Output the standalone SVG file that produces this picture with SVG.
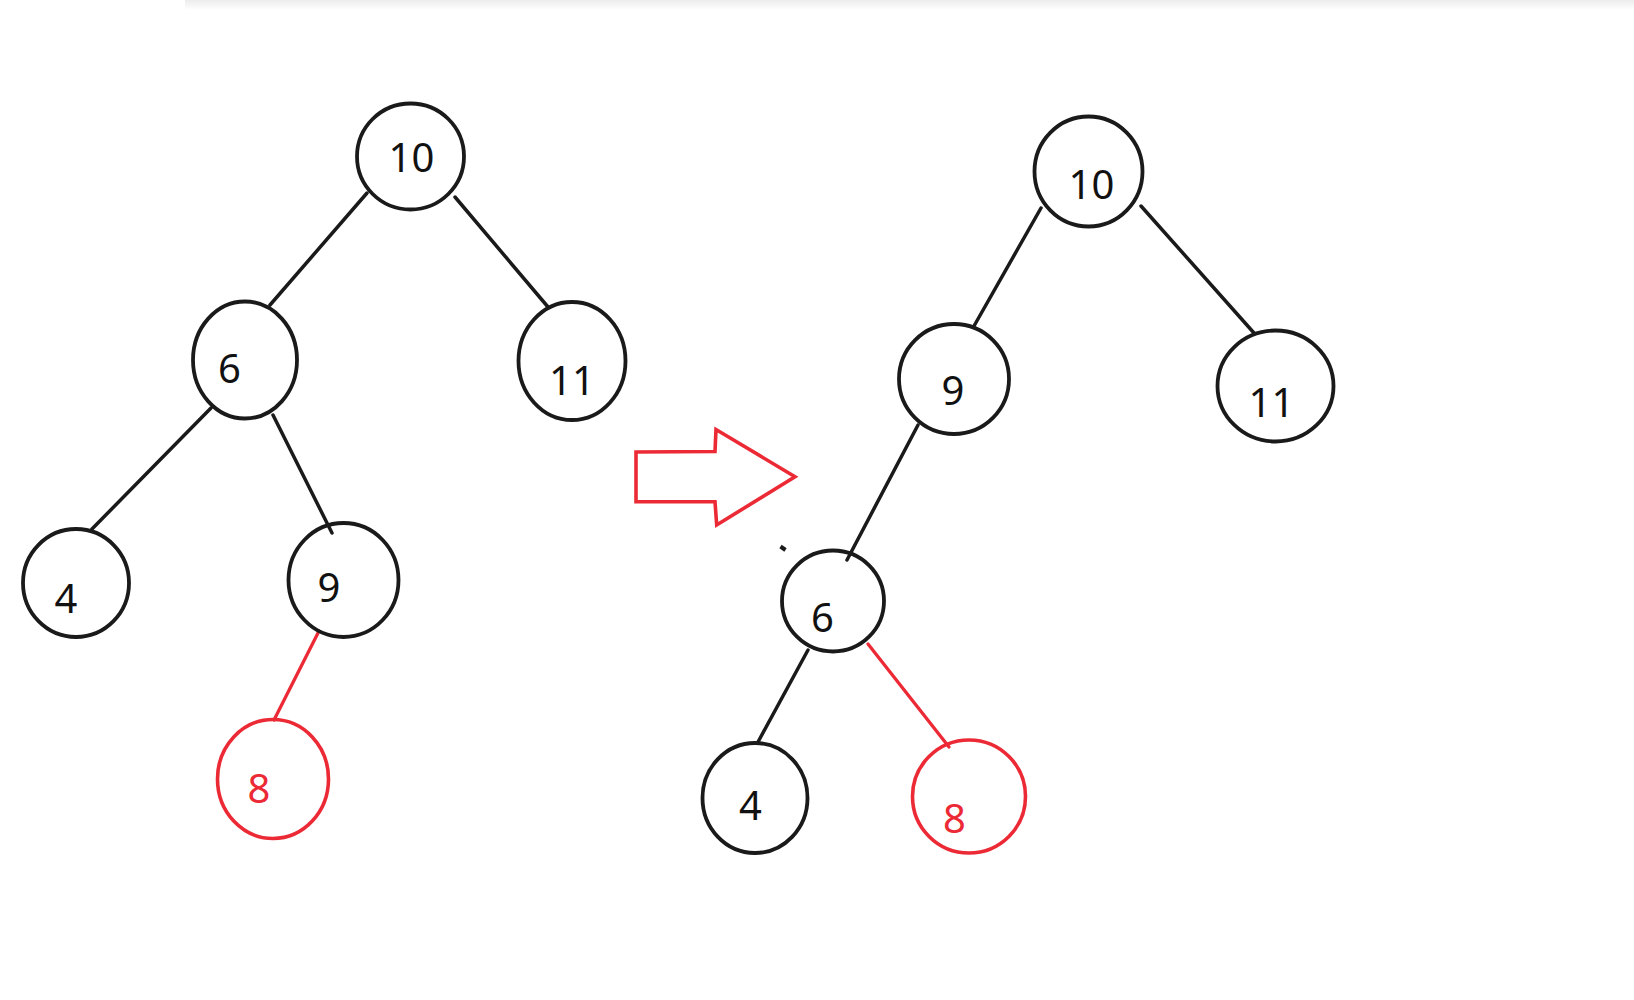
<svg xmlns="http://www.w3.org/2000/svg" width="1634" height="1000" viewBox="0 0 1634 1000">
<defs>
<linearGradient id="shade" x1="0" y1="0" x2="0" y2="1">
<stop offset="0" stop-color="#ececec"/>
<stop offset="1" stop-color="#ffffff"/>
</linearGradient>
<style>
.n{fill:none;stroke:#1a1a1a;stroke-width:3.8}
.r{fill:none;stroke:#ec2a35;stroke-width:3.6}
.e{stroke:#1a1a1a;stroke-width:3.5;stroke-linecap:round;fill:none}
.er{stroke:#ec2a35;stroke-width:3.3;stroke-linecap:round;fill:none}
.t{font-family:"Noto Sans","Open Sans","DejaVu Sans",sans-serif;font-size:40px;fill:#111;text-anchor:middle}
.tr{font-family:"Noto Sans","Open Sans","DejaVu Sans",sans-serif;font-size:40px;fill:#ec2a35;text-anchor:middle}
</style>
</defs>
<rect width="1634" height="1000" fill="#ffffff"/>
<rect x="185" y="0" width="1449" height="10" fill="url(#shade)"/>
<g id="connectors">
<line class="e" x1="367" y1="193" x2="270" y2="305"/>
<line class="e" x1="455" y1="197" x2="548" y2="307"/>
<line class="e" x1="211" y1="408" x2="92" y2="529"/>
<line class="e" x1="273" y1="415" x2="332" y2="533"/>
<line class="er" x1="319" y1="631" x2="274" y2="720"/>
<line class="e" x1="1041" y1="208" x2="974" y2="326"/>
<line class="e" x1="1141" y1="206" x2="1254" y2="333"/>
<line class="e" x1="918" y1="425" x2="847" y2="560"/>
<line class="e" x1="808" y1="650" x2="758" y2="742"/>
<line class="er" x1="868" y1="644" x2="949" y2="747"/>
</g>
<g id="L10"><ellipse class="n" cx="410.5" cy="156.5" rx="53.5" ry="53"/><text class="t" x="411.5" y="172">10</text></g>
<g id="L6"><ellipse class="n" cx="245" cy="360" rx="52" ry="58.5"/><text class="t" x="229.5" y="383">6</text></g>
<g id="L11"><ellipse class="n" cx="572" cy="361" rx="53.5" ry="59"/><text class="t" x="572" y="395">11</text></g>
<g id="L4"><ellipse class="n" cx="76" cy="583" rx="53" ry="54"/><text class="t" x="66" y="613">4</text></g>
<g id="L9"><ellipse class="n" cx="343.5" cy="580" rx="55" ry="57"/><text class="t" x="329" y="601.5">9</text></g>
<g id="L8"><ellipse class="r" cx="273" cy="779" rx="55.5" ry="59.5"/><text class="tr" x="259" y="802.5">8</text></g>
<g id="arrow"><path class="r" d="M636,452 L715,451.5 L716,429.5 L795,476.7 L716.7,525 L715,501.7 L636,501.7 Z" stroke-linejoin="miter"/></g>
<line x1="780.5" y1="546.5" x2="785.5" y2="550" stroke="#1a1a1a" stroke-width="4"/>
<g id="R10"><ellipse class="n" cx="1088.5" cy="171.5" rx="54" ry="55"/><text class="t" x="1091.5" y="199">10</text></g>
<g id="R9"><ellipse class="n" cx="954" cy="379" rx="55" ry="55"/><text class="t" x="953" y="405">9</text></g>
<g id="R11"><ellipse class="n" cx="1275.5" cy="386" rx="58" ry="55.5"/><text class="t" x="1271.5" y="416.5">11</text></g>
<g id="R6"><ellipse class="n" cx="833" cy="601" rx="51" ry="50.5"/><text class="t" x="822.5" y="631.5">6</text></g>
<g id="R4"><ellipse class="n" cx="755" cy="798" rx="52.5" ry="55"/><text class="t" x="750.5" y="820">4</text></g>
<g id="R8"><ellipse class="r" cx="969" cy="796.5" rx="56.5" ry="56.5"/><text class="tr" x="954.5" y="833">8</text></g>
</svg>
